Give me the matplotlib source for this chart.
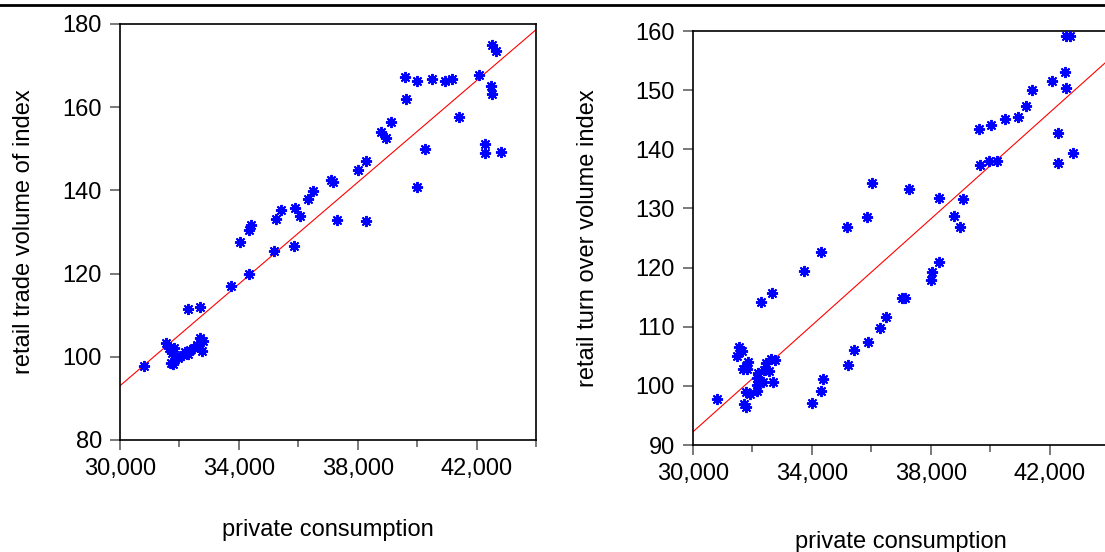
"""Scatter of retail indices against private consumption, with OLS fit lines."""
import numpy as np
import matplotlib
matplotlib.use("Agg")
import matplotlib.pyplot as plt
from matplotlib.lines import Line2D
from matplotlib.ticker import MultipleLocator, StrMethodFormatter

plt.rcParams["font.family"] = ["Liberation Sans", "DejaVu Sans"]

# ── data ─────────────────────────────────────────────────────────────────────
# left panel: private consumption vs retail trade volume of index
CONS_L = [30810, 31543, 31664, 31833, 31765, 31948, 31799, 31722, 32137, 32194,
          32285, 32363, 32474, 32589, 32677, 32792, 32758, 32305, 32690, 33747,
          34331, 34027, 35198, 35863, 34344, 34422, 35242, 35435, 35897, 36066,
          36322, 36505, 37089, 37166, 37291, 38024, 38294, 38294, 38770, 38938,
          39113, 39627, 39593, 39985, 40491, 40930, 41180, 39991, 40251, 41419,
          42083, 42472, 42530, 42517, 42665, 42287, 42287, 42816]
TRADE = [97.9, 103.4, 102.0, 102.2, 100.8, 99.6, 98.2, 98.6, 100.4, 101.2,
         100.6, 101.6, 102.2, 102.8, 104.4, 103.9, 101.4, 111.4, 112.0, 116.9,
         119.8, 127.6, 125.5, 126.6, 130.5, 131.6, 133.2, 135.3, 135.7, 133.8,
         137.9, 139.8, 142.5, 142.1, 132.9, 144.9, 147.0, 132.6, 154.0, 152.5,
         156.5, 161.9, 167.2, 166.4, 166.8, 166.4, 166.7, 140.9, 150.0, 157.6,
         167.7, 165.2, 163.1, 175.0, 173.5, 151.2, 149.1, 149.2]

# right panel: private consumption vs retail turn over volume index
CONS_R = [30793, 31541, 31636, 31494, 31855, 31771, 31686, 31831, 32192, 32159,
          32361, 32142, 32169, 31798, 31922, 31710, 31798, 32452, 32641, 32766,
          32395, 32563, 32698, 32293, 32664, 33720, 34307, 35194, 35845, 36037,
          37261, 38287, 38793, 38972, 39083, 34003, 34307, 34384, 35228, 35407,
          35879, 36297, 36486, 37049, 37150, 37993, 38027, 38287, 39622, 40017,
          40513, 40951, 41208, 41400, 42074, 42503, 42557, 42546, 42681, 39656,
          39950, 40229, 42267, 42267, 42793]
TURNOVER = [97.7, 106.5, 105.9, 105.1, 104.0, 103.4, 102.8, 102.8, 102.1, 101.3,
            100.7, 100.2, 99.1, 99.0, 98.7, 96.9, 96.5, 103.9, 104.5, 104.3,
            102.6, 102.5, 100.7, 114.2, 115.7, 119.4, 122.7, 126.9, 128.6, 134.3,
            133.3, 131.8, 128.8, 126.8, 131.6, 97.1, 99.2, 101.1, 103.5, 106.0,
            107.5, 109.7, 111.7, 114.9, 114.8, 117.9, 119.2, 121.0, 143.4, 144.1,
            145.1, 145.4, 147.3, 150.0, 151.6, 153.0, 150.4, 159.2, 159.1, 137.4,
            138.0, 138.1, 142.7, 137.7, 139.3]

XLIM = (30000, 44000)
XLABEL = "private consumption"
YLABEL_L = "retail trade volume of index"
YLABEL_R = "retail turn over volume index"


def scatter_panel(ax, x, y, ylim, ystep, ylabel, xpad, ypad):
    ax.plot(x, y, ls="none", marker=(8, 2, 0), ms=8, mew=1.4,
            color="#0000ff", zorder=3)
    b, a = np.polyfit(x, y, 1)
    xs = np.array(XLIM, dtype=float)
    ax.plot(xs, a + b * xs, color="#ff0000", lw=0.8, zorder=2)

    ax.set_xlim(*XLIM)
    ax.set_ylim(*ylim)
    # majors at 30,000 / 34,000 / ... ; minors halfway between
    ax.xaxis.set_major_locator(MultipleLocator(4000, offset=2000))
    ax.xaxis.set_minor_locator(MultipleLocator(2000))
    ax.xaxis.set_major_formatter(StrMethodFormatter("{x:,.0f}"))
    ax.yaxis.set_major_locator(MultipleLocator(ystep))
    ax.tick_params(axis="both", which="major", direction="out", length=7,
                   width=1.1, color="#555555", labelsize=17, pad=6)
    ax.tick_params(axis="x", which="minor", direction="out", length=5,
                   width=1.1, color="#555555")
    for s in ax.spines.values():
        s.set_linewidth(1.2)
        s.set_color("black")
    ax.set_xlabel(XLABEL, fontsize=17, labelpad=xpad)
    ax.set_ylabel(ylabel, fontsize=17, labelpad=ypad)


fig = plt.figure(figsize=(11.05, 5.52), dpi=100)
ax1 = fig.add_axes([120 / 1105, 1 - 440 / 552, 416 / 1105, 416 / 552])
ax2 = fig.add_axes([693 / 1105, 1 - 445 / 552, 416 / 1105, 414 / 552])

scatter_panel(ax1, CONS_L, TRADE, (80, 180), 20, YLABEL_L, xpad=28, ypad=20)
scatter_panel(ax2, CONS_R, TURNOVER, (90, 160), 10, YLABEL_R, xpad=33, ypad=26)

# rule across the top of the page
fig.add_artist(Line2D([0, 1], [1 - 4.7 / 552] * 2, color="black", lw=2.0,
                      transform=fig.transFigure))

fig.savefig("out.png", dpi=100)
